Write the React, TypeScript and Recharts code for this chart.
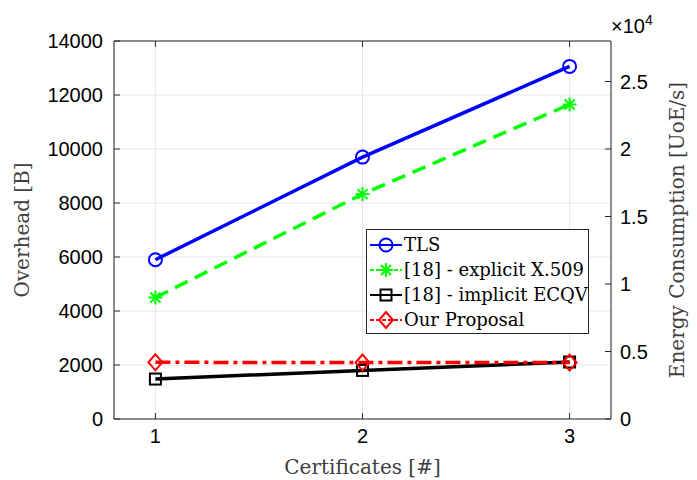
import { LineChart, Line, XAxis, YAxis, CartesianGrid, ReferenceLine } from 'recharts';

const certificates = [1, 2, 3];
const tlsOverhead = [5900, 9700, 13060];
const explicitOverhead = [4500, 8330, 11650];
const implicitOverhead = [1480, 1800, 2110];
const proposalOverhead = [2100, 2090, 2090];

const xTicks = [1, 2, 3];
const leftTicks = [0, 2000, 4000, 6000, 8000, 10000, 12000, 14000];
const rightTicks = [0, 5000, 10000, 15000, 20000, 25000];

const data = certificates.map((c, i) => ({
  cert: c,
  tls: tlsOverhead[i],
  explicit: explicitOverhead[i],
  implicit: implicitOverhead[i],
  proposal: proposalOverhead[i],
}));

const AXIS = '#262626';
const SANS = '"Liberation Sans", Arial, sans-serif';
const SERIF = '"DejaVu Serif", "Liberation Serif", serif';

// marker shapes (matlab style open markers)
const CircleMark = ({ cx, cy, color }: any) => (
  <circle cx={cx} cy={cy} r={6.5} fill="none" stroke={color} strokeWidth={2} />
);
const StarMark = ({ cx, cy, color }: any) => (
  <g stroke={color} strokeWidth={2}>
    <line x1={cx - 7} y1={cy} x2={cx + 7} y2={cy} />
    <line x1={cx} y1={cy - 7} x2={cx} y2={cy + 7} />
    <line x1={cx - 5} y1={cy - 5} x2={cx + 5} y2={cy + 5} />
    <line x1={cx - 5} y1={cy + 5} x2={cx + 5} y2={cy - 5} />
  </g>
);
const SquareMark = ({ cx, cy, color }: any) => (
  <rect x={cx - 5.5} y={cy - 5.5} width={11} height={11} fill="none" stroke={color} strokeWidth={2} />
);
const DiamondMark = ({ cx, cy, color }: any) => (
  <polygon
    points={`${cx},${cy - 8} ${cx + 7},${cy} ${cx},${cy + 8} ${cx - 7},${cy}`}
    fill="none"
    stroke={color}
    strokeWidth={2}
  />
);

const series = [
  { key: 'tls', name: 'TLS', color: '#0000ff', dash: undefined, Mark: CircleMark },
  { key: 'explicit', name: '[18] - explicit X.509', color: '#00ff00', dash: '14 8', Mark: StarMark },
  { key: 'implicit', name: '[18] - implicit ECQV', color: '#000000', dash: undefined, Mark: SquareMark },
  { key: 'proposal', name: 'Our Proposal', color: '#ff0000', dash: '15 5 4 5', Mark: DiamondMark },
];

const LegendBox = () => (
  <div
    style={{
      position: 'absolute',
      left: 366,
      top: 229,
      boxSizing: 'border-box',
      border: `1px solid ${AXIS}`,
      background: '#fff',
      width: 223,
      height: 105,
      padding: '2px 0 0 2px',
      fontFamily: SERIF,
      fontSize: 18,
      color: '#000',
      whiteSpace: 'nowrap',
      overflow: 'hidden',
    }}
  >
    {series.map(s => (
      <div key={s.key} style={{ display: 'flex', alignItems: 'center', height: 25 }}>
        <svg width={34} height={20} style={{ marginRight: 1, flexShrink: 0 }}>
          <line x1={1} y1={10} x2={33} y2={10} stroke={s.color} strokeWidth={2} strokeDasharray={s.dash ? '4 2' : undefined} />
          <s.Mark cx={17} cy={10} color={s.color} />
        </svg>
        <span>{s.name}</span>
      </div>
    ))}
  </div>
);

const App = () => {
  return (
    <div style={{ position: 'absolute', left: 0, top: 0, width: 697, height: 480, background: '#fff' }}>
      <LineChart width={697} height={480} data={data} margin={{ top: 41, right: 0, bottom: 0, left: 0 }}>
        <CartesianGrid yAxisId="left" stroke="#e6e6e6" strokeWidth={1} />
        <XAxis
          dataKey="cert"
          type="number"
          domain={[0.8, 3.2]}
          ticks={xTicks}
          allowDataOverflow
          height={61}
          stroke={AXIS}
          tickSize={-6}
          tickMargin={16}
          tick={{ fill: '#000', fontFamily: SANS, fontSize: 20 }}
          label={{ value: 'Certificates [#]', position: 'insideBottom', offset: 6, fill: '#404040', fontFamily: SERIF, fontSize: 20 }}
        />
        <YAxis
          yAxisId="left"
          type="number"
          domain={[0, 14000]}
          ticks={leftTicks}
          width={114}
          stroke={AXIS}
          tickSize={-6}
          tickMargin={17}
          tick={{ fill: '#000', fontFamily: SANS, fontSize: 20 }}
          label={{ value: 'Overhead [B]', angle: -90, position: 'insideLeft', offset: 22, fill: '#404040', fontFamily: SERIF, fontSize: 20, style: { textAnchor: 'middle' } }}
        />
        <YAxis
          yAxisId="right"
          orientation="right"
          type="number"
          domain={[0, 28000]}
          ticks={rightTicks}
          allowDataOverflow
          width={86}
          stroke={AXIS}
          tickSize={-6}
          tickMargin={15}
          tickFormatter={(v: number) => String(v / 10000)}
          tick={{ fill: '#000', fontFamily: SANS, fontSize: 20 }}
          label={{ value: 'Energy Consumption [UoE/s]', angle: -90, position: 'insideRight', offset: 20, fill: '#404040', fontFamily: SERIF, fontSize: 20, style: { textAnchor: 'middle' } }}
        />
        <ReferenceLine yAxisId="left" y={14000} stroke={AXIS} strokeWidth={1} />
        {xTicks.map(t => (
          <ReferenceLine
            key={t}
            yAxisId="left"
            segment={[{ x: t, y: 14000 }, { x: t, y: 13780 }]}
            stroke={AXIS}
          />
        ))}
        {/* binds the energy axis so its scale is built; not drawn */}
        <Line yAxisId="right" dataKey="tls" hide legendType="none" isAnimationActive={false} />
        {series.map(s => (
          <Line
            key={s.key}
            yAxisId="left"
            type="linear"
            dataKey={s.key}
            name={s.name}
            stroke={s.color}
            strokeWidth={3.5}
            strokeDasharray={s.dash}
            dot={(p: any) => <s.Mark key={`${s.key}-${p.index}`} cx={p.cx} cy={p.cy} color={s.color} />}
            isAnimationActive={false}
          />
        ))}
      </LineChart>
      <LegendBox />
      <div style={{ position: 'absolute', left: 611, top: 14, fontFamily: SANS, fontSize: 20, color: '#000', lineHeight: '24px' }}>
        ×10<sup style={{ fontSize: 14, verticalAlign: 'top', position: 'relative', top: -6 }}>4</sup>
      </div>
    </div>
  );
};

export default App;
